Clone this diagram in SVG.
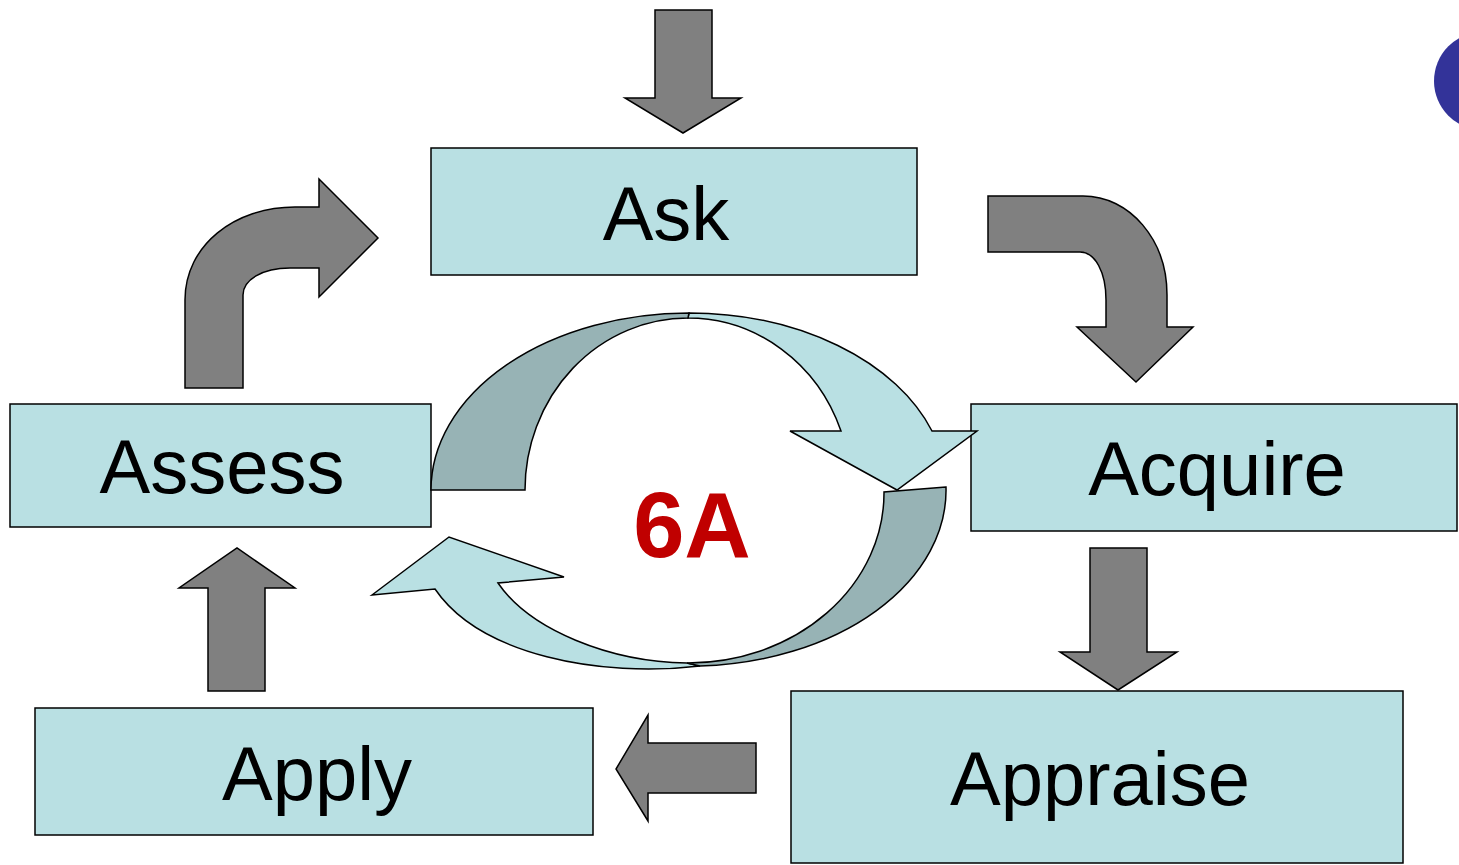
<svg xmlns="http://www.w3.org/2000/svg" width="1459" height="865" viewBox="0 0 1459 865">
  <style>
    .box { fill: #b9e0e3; stroke: #000; stroke-width: 1.5; }
    .label { font-family: "Comic Sans MS", "Liberation Sans", sans-serif; font-size: 76px; fill: #000; text-anchor: middle; }
    .flow { fill: #808080; stroke: #000; stroke-width: 1.5; stroke-linejoin: miter; }
    .ribbon-light { fill: #b9e0e3; stroke: #000; stroke-width: 1.5; }
    .ribbon-dark { fill: #97b3b5; stroke: #000; stroke-width: 1.5; }
  </style>
  <rect width="1459" height="865" fill="#fff"/>

  <!-- corner dot -->
  <circle cx="1483" cy="81" r="49" fill="#333399"/>

  <!-- process steps -->
  <g id="node-ask">
    <rect class="box" x="431" y="148" width="486" height="127"/>
    <text class="label" x="666" y="240">Ask</text>
  </g>
  <g id="node-acquire">
    <rect class="box" x="971" y="404" width="486" height="127"/>
    <text class="label" x="1217" y="495">Acquire</text>
  </g>
  <g id="node-appraise">
    <rect class="box" x="791" y="691" width="612" height="172"/>
    <text class="label" x="1100" y="805">Appraise</text>
  </g>
  <g id="node-apply">
    <rect class="box" x="35" y="708" width="558" height="127"/>
    <text class="label" x="317" y="800">Apply</text>
  </g>
  <g id="node-assess">
    <rect class="box" x="10" y="404" width="421" height="123"/>
    <text class="label" x="222" y="493">Assess</text>
  </g>

  <!-- block arrows between steps -->
  <g id="connectors">
    <path class="flow" d="M655,10 L712,10 L712,98 L741,98 L683,133 L625,98 L655,98 Z"/>
    <path class="flow" d="M988,196 L1083,196 C1130,196 1167,240 1167,295 L1167,327 L1193,327 L1136,382 L1077,327 L1106,327 L1106,300 C1106,272 1095,252 1080,252 L988,252 Z"/>
    <path class="flow" d="M1090,548 L1147,548 L1147,652 L1177,652 L1118,690 L1060,652 L1090,652 Z"/>
    <path class="flow" d="M756,743 L756,793 L648,793 L648,821 L616,769 L648,715 L648,743 Z"/>
    <path class="flow" d="M208,691 L208,588 L179,588 L237,548 L295,588 L265,588 L265,691 Z"/>
    <path class="flow" d="M185,388 L185,300 C185,245 235,207 295,207 L319,207 L319,179 L378,238 L319,297 L319,268 L290,268 C262,268 243,280 243,295 L243,388 Z"/>
  </g>

  <!-- central cycle -->
  <g id="cycle">
    <path class="ribbon-light" d="M689,313 A258,177 0 0 1 932,431 L977,431 L897,490 L790,431 L841,431 A163,172 0 0 0 688,318 Z"/>
    <path class="ribbon-dark" d="M431,490 A258,177 0 0 1 689,313 L688,318 A163,172 0 0 0 525,490 Z"/>
    <path class="ribbon-light" d="M372,595 L449,537 L564,577 L498,583 C530,630 610,662 687,663 L700,666 C600,678 480,655 435,589 Z"/>
    <path class="ribbon-dark" d="M946,487 L884,492 A196,170 0 0 1 687,663 L700,666 A257,176 0 0 0 946,487 Z"/>
    <text x="692" y="557" font-family="'Comic Sans MS', 'Liberation Sans', sans-serif" font-size="92" font-weight="bold" fill="#c00000" text-anchor="middle">6A</text>
  </g>
</svg>
